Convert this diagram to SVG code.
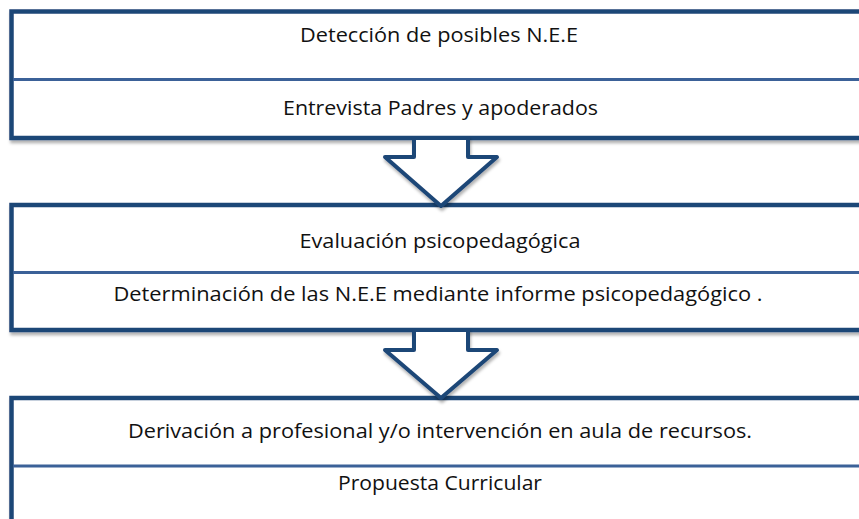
<svg xmlns="http://www.w3.org/2000/svg" width="859" height="519" viewBox="0 0 859 519">
<defs>
<filter id="sh" x="-5%" y="-5%" width="110%" height="120%">
<feDropShadow dx="1" dy="3" stdDeviation="1.5" flood-color="#000" flood-opacity="0.3"/>
</filter>
</defs>
<style>
.box{fill:#fff;stroke:#1f4677;stroke-width:4.5;filter:url(#sh)}
.div{stroke:#3b6198;stroke-width:3;fill:none}
.arr{fill:#fff;stroke:#1f4677;stroke-width:4;stroke-linejoin:round;filter:url(#sh)}
.t{font-family:"Open Sans","Noto Sans",sans-serif;font-size:20px;fill:#111;text-anchor:middle}
</style>
<rect width="859" height="519" fill="#fff"/>
<g id="node1">
<rect class="box" x="11.5" y="11.5" width="900" height="126.5"/>
<line class="div" x1="13" y1="79.5" x2="859" y2="79.5"/>
<text class="t" x="439" y="42" textLength="278" lengthAdjust="spacingAndGlyphs">Detección de posibles N.E.E</text>
<text class="t" x="440.5" y="115" textLength="315" lengthAdjust="spacingAndGlyphs">Entrevista Padres y apoderados</text>
</g>
<g id="node2">
<rect class="box" x="11.5" y="205" width="900" height="125"/>
<line class="div" x1="13" y1="272.5" x2="859" y2="272.5"/>
<text class="t" x="440" y="248" textLength="281" lengthAdjust="spacingAndGlyphs">Evaluación psicopedagógica</text>
<text class="t" x="438" y="301" textLength="649" lengthAdjust="spacingAndGlyphs">Determinación de las N.E.E mediante informe psicopedagógico .</text>
</g>
<g id="node3">
<rect class="box" x="11.5" y="398" width="900" height="200"/>
<line class="div" x1="13" y1="466" x2="859" y2="466"/>
<text class="t" x="440" y="438" textLength="624" lengthAdjust="spacingAndGlyphs">Derivación a profesional y/o intervención en aula de recursos.</text>
<text class="t" x="440" y="490" textLength="204" lengthAdjust="spacingAndGlyphs">Propuesta Curricular</text>
</g>
<g id="connectors">
<polygon class="arr" points="414,138 414,157 385,157 441,206 497,157 468,157 468,138"/>
<polygon class="arr" points="414,330 414,350 385,350 441,398 497,350 468,350 468,330"/>
</g>
</svg>
